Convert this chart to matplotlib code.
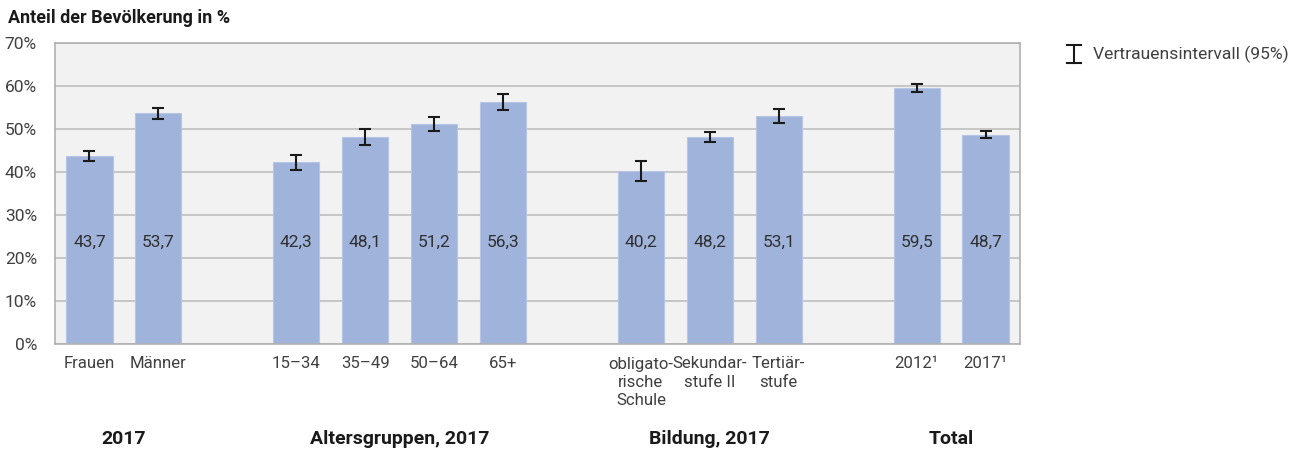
import numpy as np
import matplotlib.pyplot as plt
from matplotlib.lines import Line2D

plt.rcParams['font.family'] = ['Roboto', 'DejaVu Sans']

# categories placed on slots; empty slots separate the groups
labels = ["Frauen", "Männer",
          "15\u201334", "35\u201349", "50\u201364", "65+",
          "obligato-\nrische\nSchule", "Sekundar-\nstufe II", "Tertiär-\nstufe",
          "2012\u00b9", "2017\u00b9"]
slots = [0, 1, 3, 4, 5, 6, 8, 9, 10, 12, 13]
values = [43.7, 53.7, 42.3, 48.1, 51.2, 56.3, 40.2, 48.2, 53.1, 59.5, 48.7]
err = [1.2, 1.3, 1.75, 1.9, 1.7, 1.8, 2.3, 1.2, 1.6, 0.9, 0.85]
value_labels = ["43,7", "53,7", "42,3", "48,1", "51,2", "56,3",
                "40,2", "48,2", "53,1", "59,5", "48,7"]

groups = ["2017", "Altersgruppen, 2017", "Bildung, 2017", "Total"]
group_centers = [0.5, 4.5, 9, 12.5]

yticks = [0, 10, 20, 30, 40, 50, 60, 70]

bar_color = "#9fb3db"
text_color = "#404040"

fig = plt.figure(figsize=(13.02, 4.55), dpi=100)
ax = fig.add_axes([55 / 1302, 1 - 344 / 455, 965 / 1302, 301 / 455])
ax.set_facecolor("#f2f2f2")

ax.bar(slots, values, width=0.67, color=bar_color, edgecolor="#b7c6e6",
       linewidth=0.8, zorder=2)
ax.errorbar(slots, values, yerr=err, fmt="none", ecolor="#1a1a1a",
            elinewidth=1.5, capsize=4.6, capthick=1.5, zorder=3)

for x, lab in zip(slots, value_labels):
    ax.text(x, 23.7, lab, ha="center", va="center", fontsize=12.5,
            color="#303030", zorder=4)

ax.set_xlim(-0.5, 13.5)
ax.set_ylim(0, 70)
ax.set_yticks(yticks)
ax.set_yticklabels([f"{t}%" for t in yticks], fontsize=12.5, color=text_color)
ax.set_xticks(slots)
ax.set_xticklabels(labels, fontsize=12.1, color=text_color,
                   va="top", linespacing=1.28)
ax.tick_params(axis="both", length=0)
ax.tick_params(axis="y", pad=13)
ax.tick_params(axis="x", pad=9)
ax.grid(axis="y", color="#bfbfbf", linewidth=1.2, zorder=1)
ax.set_axisbelow(True)
for sp in ax.spines.values():
    sp.set_color("#b0b0b0")
    sp.set_linewidth(1.2)

for c, g in zip(group_centers, groups):
    ax.text(c, -22.2, g, ha="center", va="center", fontsize=14,
            fontweight="bold", color="#1a1a1a", transform=ax.transData,
            clip_on=False)

fig.text(8 / 1302, 1 - 18 / 455, "Anteil der Bevölkerung in %", ha="left",
         va="center", fontsize=13, fontweight="bold", color="#1a1a1a")

# legend: error bar symbol
lx = 1074 / 1302
fig.add_artist(Line2D([lx, lx], [1 - 45 / 455, 1 - 63 / 455], color="#1a1a1a", lw=1.5))
for yy in (45, 63):
    fig.add_artist(Line2D([1067 / 1302, 1081 / 1302], [1 - yy / 455, 1 - yy / 455],
                          color="#1a1a1a", lw=1.5))
fig.text(1093 / 1302, 1 - 54 / 455, "Vertrauensintervall (95%)", ha="left",
         va="center", fontsize=12.6, color=text_color)

fig.savefig("out.png", dpi=100)
